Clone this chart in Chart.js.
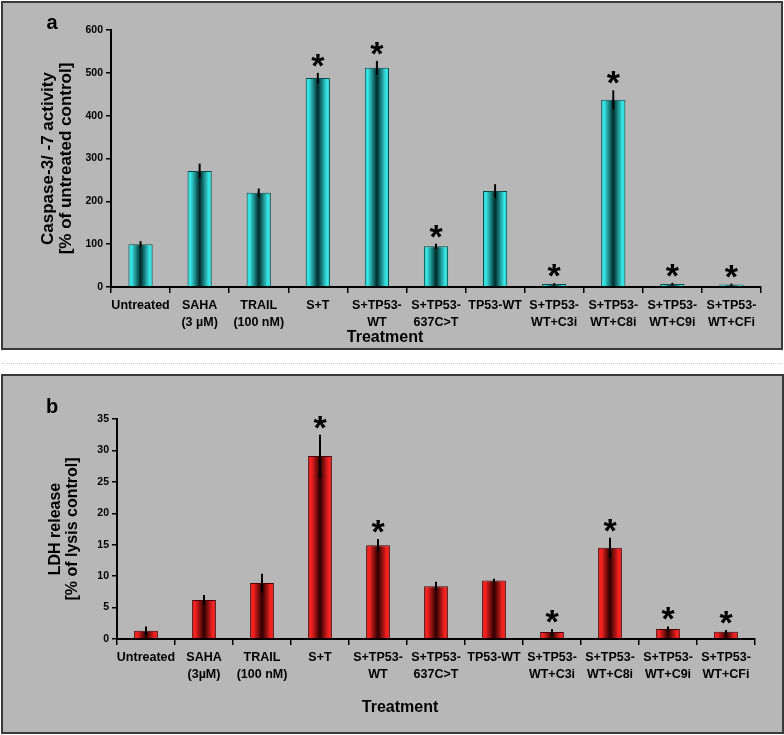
<!DOCTYPE html>
<html>
<head>
<meta charset="utf-8">
<script src="https://cdn.jsdelivr.net/npm/chart.js@4.4.1/dist/chart.umd.min.js"></script>
<style>
  body { margin: 0; background: #ffffff; width: 784px; height: 735px; position: relative; }
  .panel { position: absolute; box-sizing: border-box; border: 2px solid #3a3a3a; background: #b7b7b7; }
  #panelA { left: 1px; top: 1px; width: 782px; height: 349px; }
  #panelB { left: 1px; top: 374px; width: 783px; height: 360px; }
  #dots { position: absolute; left: 2px; top: 363px; width: 780px; border-top: 1px dotted #d0d0d0; }
  canvas { display: block; }
</style>
</head>
<body>
<div class="panel" id="panelA"><canvas id="chartA" width="778" height="345"></canvas></div>
<div id="dots"></div>
<div class="panel" id="panelB"><canvas id="chartB" width="779" height="356"></canvas></div>
<script>
/* Caspase-3/-7 activity (a) and LDH release (b) */

const labelsA = [
    ['Untreated'], ['SAHA', '(3 µM)'], ['TRAIL', '(100 nM)'], ['S+T'], ['S+TP53-', 'WT'],
    ['S+TP53-', '637C>T'], ['TP53-WT'], ['S+TP53-', 'WT+C3i'], ['S+TP53-', 'WT+C8i'],
    ['S+TP53-', 'WT+C9i'], ['S+TP53-', 'WT+CFi']
];
const caspaseValues = [100, 271, 220, 488, 512, 95, 224, 7, 437, 7, 6];
const caspaseErrors = [7, 17, 10, 12, 16, 6, 16, 2, 22, 3, 2];
const caspaseStars = [false, false, false, true, true, true, false, true, true, true, true];

const labelsB = [
    ['Untreated'], ['SAHA', '(3µM)'], ['TRAIL', '(100 nM)'], ['S+T'], ['S+TP53-', 'WT'],
    ['S+TP53-', '637C>T'], ['TP53-WT'], ['S+TP53-', 'WT+C3i'], ['S+TP53-', 'WT+C8i'],
    ['S+TP53-', 'WT+C9i'], ['S+TP53-', 'WT+CFi']
];
const ldhValues = [1.3, 6.2, 8.9, 29.1, 14.9, 8.4, 9.3, 1.1, 14.5, 1.6, 1.15];
const ldhErrors = [0.7, 0.8, 1.5, 3.4, 1.0, 0.7, 0.3, 0.5, 1.6, 0.4, 0.3];
const ldhStars = [false, false, false, true, true, false, false, true, true, true, true];

const BAR_PCT = 0.41;
const FONT = '"Liberation Sans", Arial, sans-serif';

// horizontal shading across each bar: bright edges, dark middle
function barGradient(ctx, stops) {
    const chart = ctx.chart;
    const xs = chart.scales.x;
    if (!xs || !chart.chartArea) return stops[1];
    const cx = xs.getPixelForValue(ctx.dataIndex);
    const w = (xs.width / chart.data.labels.length) * BAR_PCT;
    const g = chart.ctx.createLinearGradient(cx - w / 2, 0, cx + w / 2, 0);
    g.addColorStop(0, stops[0]);
    g.addColorStop(0.12, stops[1]);
    g.addColorStop(0.5, stops[2]);
    g.addColorStop(0.88, stops[1]);
    g.addColorStop(1, stops[0]);
    return g;
}

// error bars, asterisks, panel letter and x title
const extras = {
    id: 'extras',
    afterDatasetsDraw(chart, args, opts) {
        const ctx = chart.ctx;
        const meta = chart.getDatasetMeta(0);
        const ys = chart.scales.y;
        ctx.save();
        ctx.strokeStyle = '#000';
        ctx.lineWidth = 2;
        for (let i = 0; i < opts.values.length; i++) {
            const x = meta.data[i].x;
            const top = ys.getPixelForValue(opts.values[i] + opts.errors[i]);
            const bot = ys.getPixelForValue(Math.max(0, opts.values[i] - opts.errors[i]));
            ctx.beginPath();
            ctx.moveTo(x, top);
            ctx.lineTo(x, bot);
            ctx.stroke();
            if (opts.stars[i]) {
                // star centre ~15px above the error bar, glyph centre sits ~0.57em over baseline
                ctx.fillStyle = '#000';
                ctx.font = 'bold 34px ' + FONT;
                ctx.textAlign = 'center';
                ctx.textBaseline = 'alphabetic';
                ctx.fillText('*', x, top - 15 + 19);
            }
        }
        ctx.fillStyle = '#000';
        ctx.textAlign = 'center';
        ctx.textBaseline = 'alphabetic';
        ctx.font = 'bold 20px ' + FONT;
        ctx.fillText(opts.letter, opts.letterX, opts.letterY);
        ctx.textBaseline = 'middle';
        ctx.font = 'bold 16px ' + FONT;
        ctx.fillText('Treatment', opts.titleX, opts.titleY);
        ctx.restore();
    }
};

function makeChart(id, labels, values, errors, stars, cfg) {
    return new Chart(document.getElementById(id), {
        type: 'bar',
        data: {
            labels: labels,
            datasets: [{
                data: values,
                backgroundColor: (c) => barGradient(c, cfg.colors),
                borderColor: cfg.border,
                borderWidth: 1,
                categoryPercentage: 1,
                barPercentage: BAR_PCT
            }]
        },
        options: {
            responsive: false,
            animation: false,
            events: [],
            layout: { padding: cfg.padding },
            plugins: {
                legend: { display: false },
                tooltip: { enabled: false },
                extras: {
                    values: values, errors: errors, stars: stars,
                    letter: cfg.letter, letterX: cfg.letterX, letterY: cfg.letterY,
                    titleX: cfg.titleX, titleY: cfg.titleY
                }
            },
            scales: {
                x: {
                    grid: { display: true, drawOnChartArea: false, color: '#000', lineWidth: 1.5, tickLength: 6 },
                    border: { color: '#000', width: 2 },
                    ticks: {
                        color: '#000', padding: 4, maxRotation: 0, autoSkip: false,
                        font: { family: FONT, size: 12.5, weight: 'bold', lineHeight: 1.35 }
                    },
                    afterFit: (s) => { s.height = cfg.xHeight; }
                },
                y: {
                    min: 0, max: cfg.max,
                    grid: { display: true, drawOnChartArea: false, color: '#000', lineWidth: 1.5, tickLength: 5 },
                    border: { color: '#000', width: 2 },
                    ticks: {
                        stepSize: cfg.step, color: '#000', padding: 3,
                        font: { family: FONT, size: 10.5, weight: 'bold' }
                    },
                    title: {
                        display: true, text: cfg.yTitle, color: '#000',
                        padding: { top: cfg.yTitlePad, bottom: 0 },
                        font: { family: FONT, size: cfg.yTitleSize, weight: 'bold', lineHeight: 1.08 }
                    },
                    afterFit: (s) => { s.width = cfg.yWidth; }
                }
            }
        },
        plugins: [extras]
    });
}

makeChart('chartA', labelsA, caspaseValues, caspaseErrors, caspaseStars, {
    colors: ['#20caca', '#3ae9e9', '#002a2a'],
    border: '#0b4a4a',
    padding: { left: 0, top: 27, right: 20, bottom: 0 },
    xHeight: 61, yWidth: 108,
    max: 600, step: 100,
    yTitle: ['Caspase-3/ -7 activity', '[% of untreated control]'],
    yTitleSize: 17, yTitlePad: 36,
    letter: 'a', letterX: 49, letterY: 26,
    titleX: 382, titleY: 335
});

makeChart('chartB', labelsB, ldhValues, ldhErrors, ldhStars, {
    colors: ['#d81010', '#ff2323', '#2a0000'],
    border: '#4a0000',
    padding: { left: 0, top: 43, right: 27, bottom: 0 },
    xHeight: 93, yWidth: 114,
    max: 35, step: 5,
    yTitle: ['LDH release', '[% of lysis control]'],
    yTitleSize: 16, yTitlePad: 44,
    letter: 'b', letterX: 49, letterY: 37,
    titleX: 397, titleY: 332
});
</script>
</body>
</html>
